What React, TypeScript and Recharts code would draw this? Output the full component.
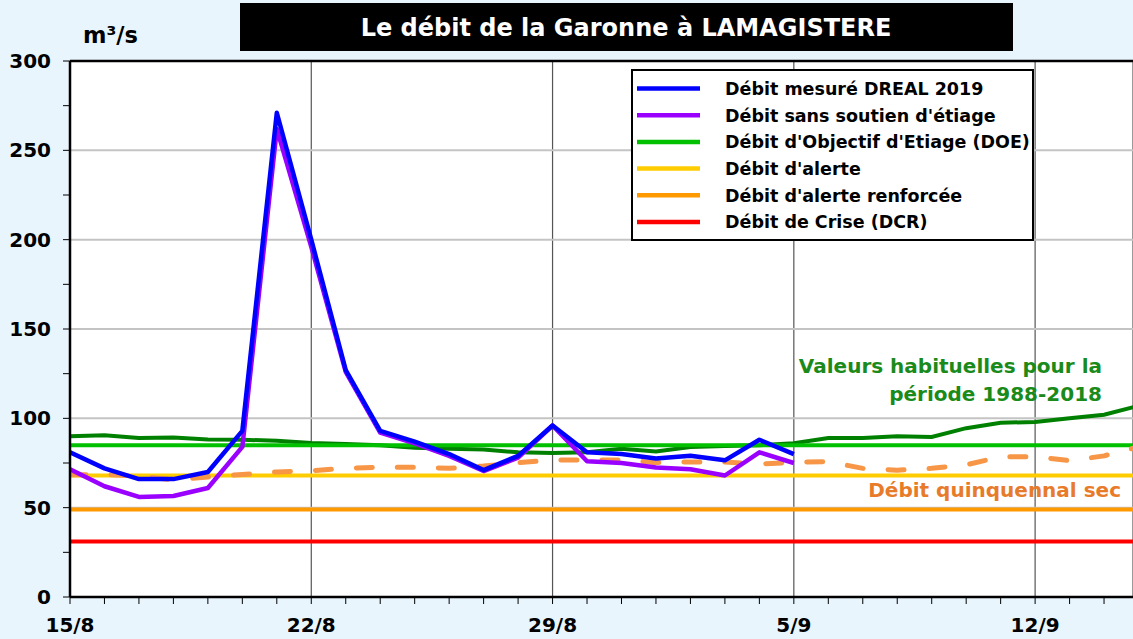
import React from "react";
import {
  ComposedChart,
  Line,
  XAxis,
  YAxis,
  CartesianGrid,
  ReferenceLine,
} from "recharts";

// ---- data ----
const days = [0, 1, 2, 3, 4, 5, 6, 7, 8, 9, 10, 11, 12, 13, 14, 15, 16, 17, 18, 19, 20, 21, 22, 23, 24, 25, 26, 27, 28, 29, 30, 31];
const dateLabels = ["15/8", "22/8", "29/8", "5/9", "12/9"];
const majorTicks = [0, 7, 14, 21, 28];
const yTicks = [0, 25, 50, 75, 100, 125, 150, 175, 200, 225, 250, 275, 300];
const yGridTicks = [50, 100, 150, 200, 250];

const measured = [81, 72, 66, 66, 70, 93, 271, 200, 127, 93, 87, 80, 71, 79, 96, 81, 80, 77.5, 79, 76.5, 88, 80];
const sansSoutien = [71.5, 62, 56, 56.5, 61, 84, 262, 196, 126, 92, 86, 79, 70.5, 78, 96, 76, 75, 72.5, 71.5, 68, 81, 75];
const habituel = [90, 90.5, 89, 89.3, 88.2, 88, 87.5, 86.2, 85.6, 85, 83.5, 83, 82.5, 81, 80.6, 81, 83, 81.5, 84, 84.5, 85, 86, 89, 89, 90, 89.6, 94.5, 97.5, 98, 100, 102, 107];
const quinquennal = [68.4, 68.6, 67.7, 65.5, 67.2, 68.6, 70, 70.7, 72, 72.6, 72.6, 72, 73.3, 75.2, 76.7, 76.7, 76.7, 75.2, 75.6, 75.6, 74.4, 75.4, 75.7, 72, 71, 72, 74, 78.5, 78.5, 76.3, 79, 84];
const DOE = 85;
const ALERTE = 68;
const ALERTE_RENF = 49;
const CRISE = 31;

const legendItems = [
  { label: "Débit mesuré DREAL 2019", color: "#0000ff" },
  { label: "Débit sans soutien d'étiage", color: "#9900ff" },
  { label: "Débit d'Objectif d'Etiage (DOE)", color: "#00c000" },
  { label: "Débit d'alerte", color: "#ffcc00" },
  { label: "Débit d'alerte renforcée", color: "#ff9900" },
  { label: "Débit de Crise (DCR)", color: "#ff0000" },
];

const rows = days.map((d, i) => ({
  day: d,
  measured: measured[i],
  sansSoutien: sansSoutien[i],
  habituel: habituel[i],
  quinquennal: quinquennal[i],
  doe: DOE,
  alerte: ALERTE,
  alerteRenf: ALERTE_RENF,
  crise: CRISE,
}));

const FONT = "'DejaVu Sans', Verdana, sans-serif";

const XTick = (props: any) => {
  const { x, y, payload } = props;
  const v = payload.value;
  const idx = majorTicks.indexOf(v);
  if (idx < 0) return null;
  return (
    <text x={x} y={y} dy={26} textAnchor="middle" fontFamily={FONT} fontWeight="bold" fontSize={20} fill="#000">
      {dateLabels[idx]}
    </text>
  );
};

const YTick = (props: any) => {
  const { x, y, payload } = props;
  const v = payload.value;
  if (v % 50 !== 0) return null;
  return (
    <text x={x} y={y} dy={7} textAnchor="end" fontFamily={FONT} fontWeight="bold" fontSize={20} fill="#000">
      {v}
    </text>
  );
};

export default function App() {
  const W = 1133;
  const H = 639;
  return (
    <div style={{ position: "absolute", left: 0, top: 0, width: W, height: H, overflow: "hidden", background: "#e9f5fd" }}>
      <ComposedChart
        width={W}
        height={H}
        data={rows}
        margin={{ top: 61, right: 0, bottom: 0, left: 0 }}
        style={{ position: "absolute", left: 0, top: 0 }}
      >
        <XAxis
          dataKey="day"
          type="number"
          domain={[0, 30.84]}
          allowDataOverflow
          ticks={days.slice(0, 31)}
          interval={0}
          height={42}
          tickSize={7}
          tickMargin={2}
          tick={<XTick />}
          axisLine={{ stroke: "#000", strokeWidth: 2.5 }}
          tickLine={{ stroke: "#000", strokeWidth: 1 }}
        />
        <XAxis xAxisId="grid" dataKey="day" type="number" domain={[0, 30.84]} allowDataOverflow ticks={majorTicks} hide />
        <YAxis
          type="number"
          domain={[0, 300]}
          ticks={yTicks}
          interval={0}
          width={70}
          tickSize={7}
          tickMargin={12}
          tick={<YTick />}
          axisLine={{ stroke: "#000", strokeWidth: 2.5 }}
          tickLine={{ stroke: "#000", strokeWidth: 1 }}
        />
        <CartesianGrid
          xAxisId="grid"
          horizontal={false}
          stroke="#555555"
          strokeWidth={1.2}
          fill="#ffffff"
        />
        {yGridTicks.map((v) => (
          <ReferenceLine key={v} y={v} stroke="#c4c4c4" strokeWidth={2} />
        ))}
        <ReferenceLine y={300} stroke="#000" strokeWidth={2.5} />
        <Line dataKey="crise" stroke="#ff0000" strokeWidth={4} dot={false} isAnimationActive={false} />
        <Line dataKey="alerteRenf" stroke="#ff9900" strokeWidth={4} dot={false} isAnimationActive={false} />
        <Line dataKey="alerte" stroke="#ffcc00" strokeWidth={4} dot={false} isAnimationActive={false} />
        <Line dataKey="habituel" stroke="#008000" strokeWidth={4} dot={false} isAnimationActive={false} />
        <Line dataKey="doe" stroke="#00c000" strokeWidth={4} dot={false} isAnimationActive={false} />
        <Line
          dataKey="quinquennal"
          stroke="#f79646"
          strokeWidth={5}
          strokeDasharray="16 25"
          strokeLinecap="round"
          dot={false}
          isAnimationActive={false}
        />
        <Line dataKey="sansSoutien" stroke="#9900ff" strokeWidth={4.5} dot={false} isAnimationActive={false} strokeLinejoin="round" />
        <Line dataKey="measured" stroke="#0000ff" strokeWidth={4.5} dot={false} isAnimationActive={false} strokeLinejoin="round" />
      </ComposedChart>

      <svg
        width={W}
        height={H}
        style={{ position: "absolute", left: 0, top: 0, pointerEvents: "none" }}
        fontFamily={FONT}
        fontWeight="bold"
      >
        <rect x={240} y={3} width={773} height={48} fill="#000" />
        <text x={626} y={36} textAnchor="middle" fontSize={24} fill="#fff">
          Le débit de la Garonne à LAMAGISTERE
        </text>
        <text x={83} y={43} fontSize={22.5} fill="#000">
          m³/s
        </text>

        <rect x={632} y={70} width={401} height={170} fill="#fff" stroke="#000" strokeWidth={2} />
        {legendItems.map((it, i) => {
          const cy = 88.5 + i * 26.7;
          return (
            <g key={it.label}>
              <line x1={637} x2={700} y1={cy} y2={cy} stroke={it.color} strokeWidth={4.5} />
              <text x={725} y={cy + 6.4} fontSize={17.5} fill="#000">
                {it.label}
              </text>
            </g>
          );
        })}

        <text x={1102} y={373} textAnchor="end" fontSize={20} fill="#1a8a1a">
          Valeurs habituelles pour la
        </text>
        <text x={1102} y={401} textAnchor="end" fontSize={20} fill="#1a8a1a">
          période 1988-2018
        </text>
        <text x={1121} y={497} textAnchor="end" fontSize={20} fill="#e87b2a">
          Débit quinquennal sec
        </text>
      </svg>
    </div>
  );
}
